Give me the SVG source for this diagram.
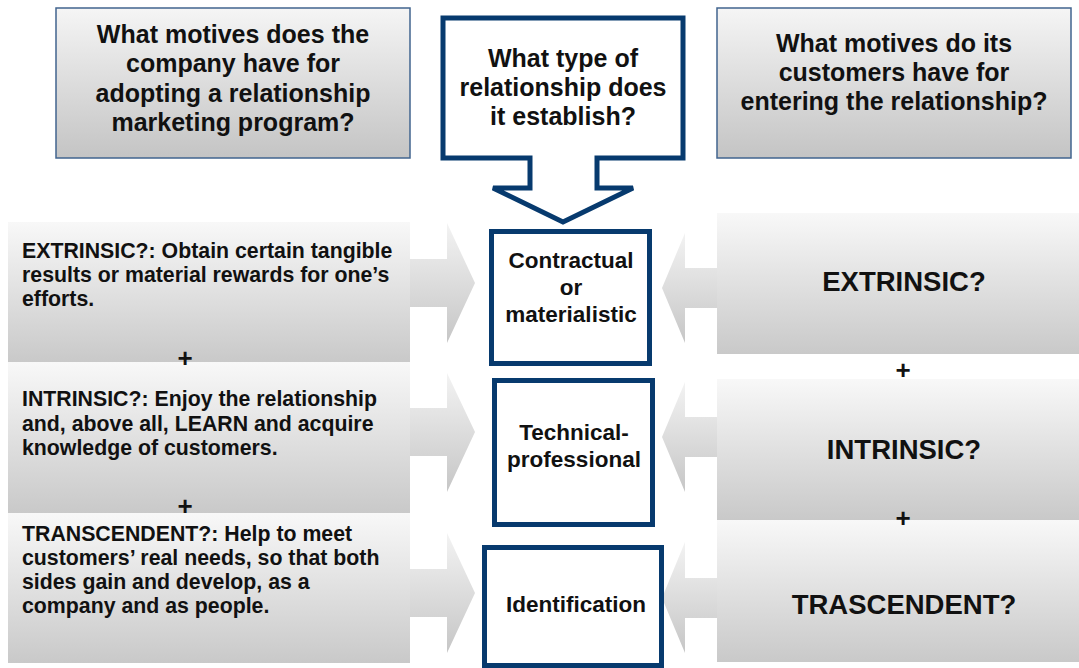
<svg xmlns="http://www.w3.org/2000/svg" width="1079" height="668" viewBox="0 0 1079 668">
<defs>
<linearGradient id="gTop" x1="0" y1="0" x2="0" y2="1">
<stop offset="0" stop-color="#f5f5f5"/><stop offset="1" stop-color="#c4c4c4"/>
</linearGradient>
<linearGradient id="gBox" x1="0" y1="0" x2="0" y2="1">
<stop offset="0" stop-color="#f8f8f8"/><stop offset="1" stop-color="#c9c9c9"/>
</linearGradient>
<linearGradient id="gArrow" x1="0" y1="0" x2="0" y2="1">
<stop offset="0" stop-color="#f3f3f3"/><stop offset="1" stop-color="#c6c6c6"/>
</linearGradient>
<style>
text{font-family:"Liberation Sans",Arial,sans-serif;font-weight:bold;fill:#111;}
.q{font-size:25px;text-anchor:middle;}
.l{font-size:21.3px;}
.c{font-size:22.5px;text-anchor:middle;}
.r{font-size:27.5px;text-anchor:middle;}
.p{font-size:26px;text-anchor:middle;}
.topbox{fill:url(#gTop);stroke:#41648f;stroke-width:1.5;}
.mbox{fill:url(#gBox);}
.arrow{fill:url(#gArrow);}
.navy{fill:#fff;stroke:#073a6e;stroke-width:5;stroke-linejoin:miter;}
</style>
</defs>
<rect width="1079" height="668" fill="#fff"/>

<g id="connectors">
<path class="arrow" d="M400,259 H447 V223 L475,283 L447,343 V307 H400 Z"/>
<path class="arrow" d="M400,408 H447 V373 L475,432 L447,492 V456 H400 Z"/>
<path class="arrow" d="M400,569 H447 V533 L475,593 L447,653 V617 H400 Z"/>
<path class="arrow" d="M725,268 H685 V233 L662,288 L685,343 V308 H725 Z"/>
<path class="arrow" d="M725,417 H685 V382 L662,437 L685,492 V457 H725 Z"/>
<path class="arrow" d="M725,578 H685 V542 L662,598 L685,653 V618 H725 Z"/>
</g>

<g id="q-company">
<rect class="topbox" x="56" y="8" width="354" height="150"/>
<text class="q" x="233" y="43">What motives does the</text>
<text class="q" x="233" y="72">company have for</text>
<text class="q" x="233" y="102">adopting a relationship</text>
<text class="q" x="233" y="131">marketing program?</text>
</g>

<g id="q-type">
<path class="navy" d="M443,18 H683 V158 H597 V188 H633 L563,222 L493,188 H530 V158 H443 Z"/>
<text class="q" x="563" y="67">What type of</text>
<text class="q" x="563" y="96">relationship does</text>
<text class="q" x="563" y="125">it establish?</text>
</g>

<g id="q-customers">
<rect class="topbox" x="717" y="8" width="354" height="150"/>
<text class="q" x="894" y="52">What motives do its</text>
<text class="q" x="894" y="81">customers have for</text>
<text class="q" x="894" y="110">entering the relationship?</text>
</g>

<g id="company-extrinsic">
<rect class="mbox" x="8" y="222" width="402" height="140"/>
<text class="l" x="22" y="258">EXTRINSIC?: Obtain certain tangible</text>
<text class="l" x="22" y="282">results or material rewards for one’s</text>
<text class="l" x="22" y="306">efforts.</text>
</g>
<g id="company-intrinsic">
<rect class="mbox" x="8" y="362" width="402" height="151"/>
<text class="l" x="22" y="406">INTRINSIC?: Enjoy the relationship</text>
<text class="l" x="22" y="431">and, above all, LEARN and acquire</text>
<text class="l" x="22" y="455">knowledge of customers.</text>
</g>
<g id="company-transcendent">
<rect class="mbox" x="8" y="513" width="402" height="150"/>
<text class="l" x="22" y="541">TRANSCENDENT?: Help to meet</text>
<text class="l" x="22" y="565">customers’ real needs, so that both</text>
<text class="l" x="22" y="589">sides gain and develop, as a</text>
<text class="l" x="22" y="613">company and as people.</text>
</g>
<g id="plus-left">
<text class="p" x="185" y="367">+</text>
<text class="p" x="185" y="515">+</text>
</g>

<g id="type-contractual">
<rect class="navy" x="491.5" y="231.5" width="158" height="132"/>
<text class="c" x="571" y="268">Contractual</text>
<text class="c" x="571" y="295">or</text>
<text class="c" x="571" y="322">materialistic</text>
</g>
<g id="type-technical">
<rect class="navy" x="494.5" y="380.5" width="158" height="144"/>
<text class="c" x="574" y="440">Technical-</text>
<text class="c" x="574" y="467">professional</text>
</g>
<g id="type-identification">
<rect class="navy" x="484.5" y="547.5" width="177" height="118"/>
<text class="c" x="576" y="612">Identification</text>
</g>

<g id="customer-extrinsic">
<rect class="mbox" x="717" y="213" width="362" height="141"/>
<text class="r" x="904" y="291">EXTRINSIC?</text>
</g>
<g id="customer-intrinsic">
<rect class="mbox" x="717" y="379" width="362" height="141"/>
<text class="r" x="904" y="459">INTRINSIC?</text>
</g>
<g id="customer-transcendent">
<rect class="mbox" x="717" y="520" width="362" height="142"/>
<text class="r" x="904" y="614">TRASCENDENT?</text>
</g>
<g id="plus-right">
<text class="p" x="903" y="379">+</text>
<text class="p" x="903" y="527">+</text>
</g>
</svg>
